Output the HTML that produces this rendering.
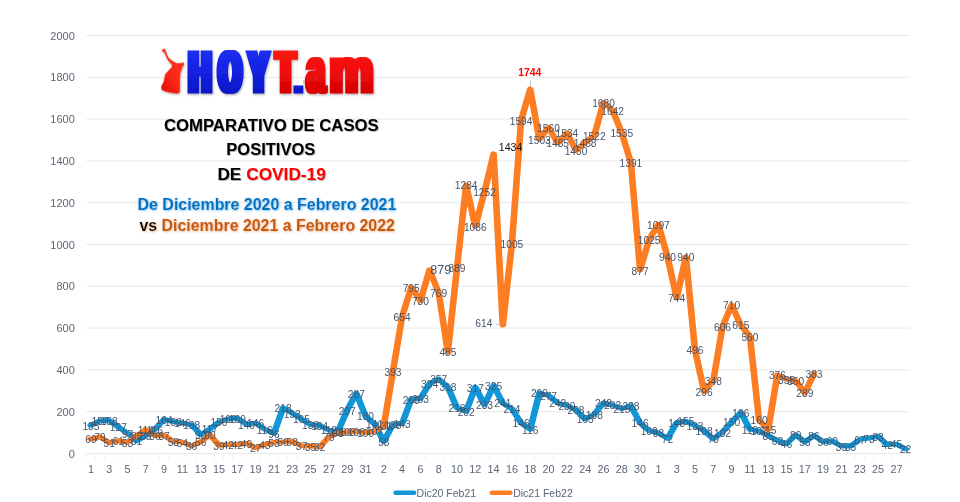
<!DOCTYPE html>
<html lang="es"><head><meta charset="utf-8"><title>Comparativo de casos positivos de COVID-19</title>
<style>html,body{margin:0;padding:0;background:#fff}body{width:960px;height:502px;overflow:hidden}svg{display:block}text{font-family:"Liberation Sans",sans-serif}</style></head><body>
<svg width="960" height="502" viewBox="0 0 960 502">
<defs>
<linearGradient id="gb" x1="0" y1="0" x2="0" y2="1"><stop offset="0" stop-color="#2a3cff"/><stop offset="0.45" stop-color="#1422e6"/><stop offset="1" stop-color="#0a12b8"/></linearGradient>
<linearGradient id="gr" x1="0" y1="0" x2="0" y2="1"><stop offset="0" stop-color="#ff2a1c"/><stop offset="0.45" stop-color="#f40a0a"/><stop offset="1" stop-color="#c80000"/></linearGradient>
<filter id="sh" x="-5%" y="-20%" width="110%" height="150%"><feDropShadow dx="0.8" dy="0.9" stdDeviation="0.7" flood-color="#000" flood-opacity="0.35"/></filter>
<filter id="glb" x="-5%" y="-30%" width="110%" height="160%"><feDropShadow dx="0.6" dy="0.7" stdDeviation="1.2" flood-color="#6db9ee" flood-opacity="1"/></filter>
<filter id="glo" x="-5%" y="-30%" width="110%" height="160%"><feDropShadow dx="0.6" dy="0.7" stdDeviation="1.2" flood-color="#f0a772" flood-opacity="1"/></filter>
<filter id="lsh" x="-5%" y="-10%" width="110%" height="130%"><feDropShadow dx="0.6" dy="1.2" stdDeviation="1" flood-color="#000" flood-opacity="0.35"/></filter>
<filter id="fat" filterUnits="userSpaceOnUse" x="180" y="40" width="200" height="62"><feMorphology in="SourceGraphic" operator="dilate" radius="3.2 0" x="180" y="40" width="123.8" height="62" result="a"/><feMorphology in="SourceGraphic" operator="dilate" radius="2.3 0" x="303.8" y="40" width="76.2" height="62" result="b"/><feMerge><feMergeNode in="a"/><feMergeNode in="b"/></feMerge></filter>
<linearGradient id="gm" x1="0.8" y1="0" x2="0.2" y2="1"><stop offset="0" stop-color="#ff3a24"/><stop offset="0.7" stop-color="#fb2212"/><stop offset="1" stop-color="#e01208"/></linearGradient>
</defs>
<rect width="960" height="502" fill="#fff"/>
<path d="M86.3 453.5H910.1M86.3 411.7H910.1M86.3 369.9H910.1M86.3 328.1H910.1M86.3 286.3H910.1M86.3 244.5H910.1M86.3 202.7H910.1M86.3 160.9H910.1M86.3 119.1H910.1M86.3 77.3H910.1M86.3 35.5H910.1" stroke="#E9E9E9" stroke-width="1" fill="none"/>
<path d="M86.30 453.5v5.5M95.45 453.5v5.5M104.61 453.5v5.5M113.76 453.5v5.5M122.91 453.5v5.5M132.07 453.5v5.5M141.22 453.5v5.5M150.37 453.5v5.5M159.53 453.5v5.5M168.68 453.5v5.5M177.83 453.5v5.5M186.99 453.5v5.5M196.14 453.5v5.5M205.29 453.5v5.5M214.45 453.5v5.5M223.60 453.5v5.5M232.75 453.5v5.5M241.91 453.5v5.5M251.06 453.5v5.5M260.21 453.5v5.5M269.37 453.5v5.5M278.52 453.5v5.5M287.67 453.5v5.5M296.83 453.5v5.5M305.98 453.5v5.5M315.13 453.5v5.5M324.29 453.5v5.5M333.44 453.5v5.5M342.59 453.5v5.5M351.75 453.5v5.5M360.90 453.5v5.5M370.05 453.5v5.5M379.21 453.5v5.5M388.36 453.5v5.5M397.51 453.5v5.5M406.67 453.5v5.5M415.82 453.5v5.5M424.97 453.5v5.5M434.13 453.5v5.5M443.28 453.5v5.5M452.43 453.5v5.5M461.59 453.5v5.5M470.74 453.5v5.5M479.89 453.5v5.5M489.05 453.5v5.5M498.20 453.5v5.5M507.35 453.5v5.5M516.51 453.5v5.5M525.66 453.5v5.5M534.81 453.5v5.5M543.97 453.5v5.5M553.12 453.5v5.5M562.27 453.5v5.5M571.43 453.5v5.5M580.58 453.5v5.5M589.73 453.5v5.5M598.89 453.5v5.5M608.04 453.5v5.5M617.19 453.5v5.5M626.35 453.5v5.5M635.50 453.5v5.5M644.65 453.5v5.5M653.81 453.5v5.5M662.96 453.5v5.5M672.11 453.5v5.5M681.27 453.5v5.5M690.42 453.5v5.5M699.57 453.5v5.5M708.73 453.5v5.5M717.88 453.5v5.5M727.03 453.5v5.5M736.19 453.5v5.5M745.34 453.5v5.5M754.49 453.5v5.5M763.65 453.5v5.5M772.80 453.5v5.5M781.95 453.5v5.5M791.11 453.5v5.5M800.26 453.5v5.5M809.41 453.5v5.5M818.57 453.5v5.5M827.72 453.5v5.5M836.87 453.5v5.5M846.03 453.5v5.5M855.18 453.5v5.5M864.33 453.5v5.5M873.49 453.5v5.5M882.64 453.5v5.5M891.79 453.5v5.5M900.95 453.5v5.5M910.10 453.5v5.5" stroke="#EEF0F4" stroke-width="1" fill="none"/>
<g font-size="11" fill="#5B6577" text-anchor="end">
<text x="74.8" y="457.5">0</text>
<text x="74.8" y="415.7">200</text>
<text x="74.8" y="373.9">400</text>
<text x="74.8" y="332.1">600</text>
<text x="74.8" y="290.3">800</text>
<text x="74.8" y="248.5">1000</text>
<text x="74.8" y="206.7">1200</text>
<text x="74.8" y="164.9">1400</text>
<text x="74.8" y="123.1">1600</text>
<text x="74.8" y="81.3">1800</text>
<text x="74.8" y="39.5">2000</text>
</g>
<g font-size="10.8" fill="#5B6577" text-anchor="middle">
<text x="90.9" y="472.9">1</text>
<text x="109.2" y="472.9">3</text>
<text x="127.5" y="472.9">5</text>
<text x="145.8" y="472.9">7</text>
<text x="164.1" y="472.9">9</text>
<text x="182.4" y="472.9">11</text>
<text x="200.7" y="472.9">13</text>
<text x="219.0" y="472.9">15</text>
<text x="237.3" y="472.9">17</text>
<text x="255.6" y="472.9">19</text>
<text x="273.9" y="472.9">21</text>
<text x="292.2" y="472.9">23</text>
<text x="310.6" y="472.9">25</text>
<text x="328.9" y="472.9">27</text>
<text x="347.2" y="472.9">29</text>
<text x="365.5" y="472.9">31</text>
<text x="383.8" y="472.9">2</text>
<text x="402.1" y="472.9">4</text>
<text x="420.4" y="472.9">6</text>
<text x="438.7" y="472.9">8</text>
<text x="457.0" y="472.9">10</text>
<text x="475.3" y="472.9">12</text>
<text x="493.6" y="472.9">14</text>
<text x="511.9" y="472.9">16</text>
<text x="530.2" y="472.9">18</text>
<text x="548.5" y="472.9">20</text>
<text x="566.9" y="472.9">22</text>
<text x="585.2" y="472.9">24</text>
<text x="603.5" y="472.9">26</text>
<text x="621.8" y="472.9">28</text>
<text x="640.1" y="472.9">30</text>
<text x="658.4" y="472.9">1</text>
<text x="676.7" y="472.9">3</text>
<text x="695.0" y="472.9">5</text>
<text x="713.3" y="472.9">7</text>
<text x="731.6" y="472.9">9</text>
<text x="749.9" y="472.9">11</text>
<text x="768.2" y="472.9">13</text>
<text x="786.5" y="472.9">15</text>
<text x="804.8" y="472.9">17</text>
<text x="823.1" y="472.9">19</text>
<text x="841.5" y="472.9">21</text>
<text x="859.8" y="472.9">23</text>
<text x="878.1" y="472.9">25</text>
<text x="896.4" y="472.9">27</text>
</g>
<g transform="scale(1.38 1)">
<polyline points="65.85,425.3 72.49,420.7 79.12,420.5 85.75,427.0 92.38,433.2 99.02,440.8 105.65,435.7 112.28,429.3 118.92,419.2 125.55,421.7 132.18,423.0 138.81,424.7 145.45,434.7 152.08,429.0 158.71,422.1 165.35,418.8 171.98,418.2 178.61,424.2 185.24,423.0 191.88,429.3 198.51,433.4 205.14,407.9 211.78,413.2 218.41,419.0 225.04,424.7 231.67,425.5 238.31,430.1 244.94,431.3 251.57,410.2 258.21,393.5 264.84,415.9 271.47,424.0 278.10,441.4 284.74,424.7 291.37,423.6 298.00,399.2 304.64,398.5 311.27,383.7 317.90,378.9 324.53,387.0 331.17,407.9 337.80,411.3 344.43,387.2 351.07,404.8 357.70,385.6 364.33,403.1 370.96,408.8 377.60,423.0 384.23,429.3 390.86,392.9 397.50,395.6 404.13,402.9 410.76,405.4 417.39,410.0 424.03,419.0 430.66,414.2 437.29,402.9 443.93,405.0 450.56,408.6 457.19,405.8 463.82,423.0 470.46,430.7 477.09,433.0 483.72,438.5 490.36,422.6 496.99,421.1 503.62,425.7 510.25,430.9 516.89,438.9 523.52,432.2 530.15,422.1 536.79,412.5 543.42,429.3 550.05,431.1 556.68,435.7 563.32,440.5 569.95,443.9 576.58,434.9 583.21,442.0 589.85,435.5 596.48,441.8 603.11,441.0 609.75,446.2 616.38,446.2 623.01,439.5 629.64,438.2 636.28,436.2 642.91,444.7 649.54,444.1 656.18,448.9" fill="none" stroke="#1196D8" stroke-width="4.8" stroke-linejoin="round" stroke-linecap="round"/>
<polyline points="65.85,439.1 72.49,437.0 79.12,442.8 85.75,440.8 92.38,442.4 99.02,435.7 105.65,429.7 112.28,435.5 118.92,435.3 125.55,441.4 132.18,442.2 138.81,446.0 145.45,441.8 152.08,434.7 158.71,445.3 165.35,444.7 171.98,444.7 178.61,443.3 185.24,447.9 191.88,444.5 198.51,442.4 205.14,441.8 211.78,441.4 218.41,445.8 225.04,446.2 231.67,446.8 238.31,437.0 244.94,433.0 251.57,432.0 258.21,431.3 264.84,432.6 271.47,431.1 278.10,426.1 284.74,371.4 291.37,316.8 298.00,287.3 304.64,300.9 311.27,269.8 317.90,292.8 324.53,352.1 331.17,267.7 337.80,185.1 344.43,226.5 351.07,191.8 357.70,153.8 364.33,325.2 370.96,243.5 377.60,120.4 384.23,89.0 390.86,139.4 397.50,127.5 404.13,143.1 410.76,132.9 417.39,150.4 424.03,142.5 430.66,135.4 437.29,102.4 443.93,110.3 450.56,132.7 457.19,162.8 463.82,270.2 470.46,239.3 477.09,224.2 483.72,257.0 490.36,298.0 496.99,257.0 503.62,349.8 510.25,391.6 516.89,380.8 523.52,326.8 530.15,305.1 536.79,325.0 543.42,336.5 550.05,420.1 556.68,429.5 563.32,374.9 569.95,379.3 576.58,380.4 583.21,393.1 589.85,373.5" fill="none" stroke="#FD7D22" stroke-width="4.8" stroke-linejoin="round" stroke-linecap="round"/>
</g>
<g font-size="10.2" fill="#44546A" text-anchor="middle">
<text x="90.9" y="429.6">135</text>
<text x="100.0" y="425.0">157</text>
<text x="109.2" y="424.8">158</text>
<text x="118.3" y="431.3">127</text>
<text x="127.5" y="437.5">97</text>
<text x="136.6" y="445.1">61</text>
<text x="145.8" y="440.0">85</text>
<text x="154.9" y="433.6">116</text>
<text x="164.1" y="423.5">164</text>
<text x="173.3" y="426.0">152</text>
<text x="182.4" y="427.3">146</text>
<text x="191.6" y="429.0">138</text>
<text x="200.7" y="439.0">90</text>
<text x="209.9" y="433.3">117</text>
<text x="219.0" y="426.4">150</text>
<text x="228.2" y="423.1">166</text>
<text x="237.3" y="422.5">169</text>
<text x="246.5" y="428.5">140</text>
<text x="255.6" y="427.3">146</text>
<text x="264.8" y="433.6">116</text>
<text x="273.9" y="437.7">96</text>
<text x="283.1" y="412.2">218</text>
<text x="292.2" y="417.5">193</text>
<text x="301.4" y="423.3">165</text>
<text x="310.6" y="429.0">138</text>
<text x="319.7" y="429.8">134</text>
<text x="328.9" y="434.4">112</text>
<text x="338.0" y="435.6">106</text>
<text x="347.2" y="414.5">207</text>
<text x="356.3" y="397.8">287</text>
<text x="365.5" y="420.2">180</text>
<text x="374.6" y="428.3">141</text>
<text x="383.8" y="445.7">58</text>
<text x="392.9" y="429.0">138</text>
<text x="402.1" y="427.9">143</text>
<text x="411.2" y="403.5">260</text>
<text x="420.4" y="402.8">263</text>
<text x="429.6" y="388.0">334</text>
<text x="438.7" y="383.2">357</text>
<text x="447.9" y="391.3">318</text>
<text x="457.0" y="412.2">218</text>
<text x="466.2" y="415.6">202</text>
<text x="475.3" y="391.5">317</text>
<text x="484.5" y="409.1">233</text>
<text x="493.6" y="389.9">325</text>
<text x="502.8" y="407.4">241</text>
<text x="511.9" y="413.1">214</text>
<text x="521.1" y="427.3">146</text>
<text x="530.2" y="433.6">116</text>
<text x="539.4" y="397.2">290</text>
<text x="548.5" y="399.9">277</text>
<text x="557.7" y="407.2">242</text>
<text x="566.9" y="409.7">230</text>
<text x="576.0" y="414.3">208</text>
<text x="585.2" y="423.3">165</text>
<text x="594.3" y="418.5">188</text>
<text x="603.5" y="407.2">242</text>
<text x="612.6" y="409.3">232</text>
<text x="621.8" y="412.9">215</text>
<text x="630.9" y="410.1">228</text>
<text x="640.1" y="427.3">146</text>
<text x="649.2" y="435.0">109</text>
<text x="658.4" y="437.3">98</text>
<text x="667.5" y="442.8">72</text>
<text x="676.7" y="426.9">148</text>
<text x="685.8" y="425.4">155</text>
<text x="695.0" y="430.0">133</text>
<text x="704.1" y="435.2">108</text>
<text x="713.3" y="443.2">70</text>
<text x="722.5" y="436.5">102</text>
<text x="731.6" y="426.4">150</text>
<text x="740.8" y="416.8">196</text>
<text x="749.9" y="433.6">116</text>
<text x="759.1" y="435.4">107</text>
<text x="768.2" y="440.0">85</text>
<text x="777.4" y="444.8">62</text>
<text x="786.5" y="448.2">46</text>
<text x="795.7" y="439.2">89</text>
<text x="804.8" y="446.3">55</text>
<text x="814.0" y="439.8">86</text>
<text x="823.1" y="446.1">56</text>
<text x="832.3" y="445.3">60</text>
<text x="841.5" y="450.5">35</text>
<text x="850.6" y="450.5">35</text>
<text x="859.8" y="443.8">67</text>
<text x="868.9" y="442.5">73</text>
<text x="878.1" y="440.5">83</text>
<text x="887.2" y="449.0">42</text>
<text x="896.4" y="448.4">45</text>
<text x="905.5" y="453.2">22</text>
<text x="90.9" y="443.4">69</text>
<text x="100.0" y="441.3">79</text>
<text x="109.2" y="447.1">51</text>
<text x="118.3" y="445.1">61</text>
<text x="127.5" y="446.7">53</text>
<text x="136.6" y="440.0">85</text>
<text x="145.8" y="434.0">114</text>
<text x="154.9" y="439.8">86</text>
<text x="164.1" y="439.6">87</text>
<text x="173.3" y="445.7">58</text>
<text x="182.4" y="446.5">54</text>
<text x="191.6" y="450.3">36</text>
<text x="200.7" y="446.1">56</text>
<text x="209.9" y="439.0">90</text>
<text x="219.0" y="449.6">39</text>
<text x="228.2" y="449.0">42</text>
<text x="237.3" y="449.0">42</text>
<text x="246.5" y="447.6">49</text>
<text x="255.6" y="452.2">27</text>
<text x="264.8" y="448.8">43</text>
<text x="273.9" y="446.7">53</text>
<text x="283.1" y="446.1">56</text>
<text x="292.2" y="445.7">58</text>
<text x="301.4" y="450.1">37</text>
<text x="310.6" y="450.5">35</text>
<text x="319.7" y="451.1">32</text>
<text x="328.9" y="441.3">79</text>
<text x="338.0" y="437.3">98</text>
<text x="347.2" y="436.3">103</text>
<text x="356.3" y="435.6">106</text>
<text x="365.5" y="436.9">100</text>
<text x="374.6" y="435.4">107</text>
<text x="383.8" y="430.4">131</text>
<text x="392.9" y="375.7">393</text>
<text x="402.1" y="321.1">654</text>
<text x="411.2" y="291.6">795</text>
<text x="420.4" y="305.2">730</text>
<text x="438.7" y="297.1">769</text>
<text x="447.9" y="356.4">485</text>
<text x="457.0" y="272.0">889</text>
<text x="466.2" y="189.4">1284</text>
<text x="475.3" y="230.8">1086</text>
<text x="484.5" y="196.1">1252</text>
<text x="511.9" y="247.8">1005</text>
<text x="521.1" y="124.7">1594</text>
<text x="539.4" y="143.7">1503</text>
<text x="548.5" y="131.8">1560</text>
<text x="557.7" y="147.4">1485</text>
<text x="566.9" y="137.2">1534</text>
<text x="576.0" y="154.8">1450</text>
<text x="585.2" y="146.8">1488</text>
<text x="594.3" y="139.7">1522</text>
<text x="603.5" y="106.7">1680</text>
<text x="612.6" y="114.6">1642</text>
<text x="621.8" y="137.0">1535</text>
<text x="630.9" y="167.1">1391</text>
<text x="640.1" y="274.5">877</text>
<text x="649.2" y="243.6">1025</text>
<text x="658.4" y="228.5">1097</text>
<text x="667.5" y="261.3">940</text>
<text x="676.7" y="302.3">744</text>
<text x="685.8" y="261.3">940</text>
<text x="695.0" y="354.1">496</text>
<text x="704.1" y="395.9">296</text>
<text x="713.3" y="385.1">348</text>
<text x="722.5" y="331.1">606</text>
<text x="731.6" y="309.4">710</text>
<text x="740.8" y="329.3">615</text>
<text x="749.9" y="340.8">560</text>
<text x="759.1" y="424.4">160</text>
<text x="768.2" y="433.8">115</text>
<text x="777.4" y="379.2">376</text>
<text x="786.5" y="383.6">355</text>
<text x="795.7" y="384.7">350</text>
<text x="804.8" y="397.4">289</text>
<text x="814.0" y="377.8">383</text>
</g>
<text x="440.8" y="274.2" font-size="12.6" fill="#44546A" text-anchor="middle">879</text>
<text x="510.6" y="151.4" font-size="10.6" fill="#111" text-anchor="middle">1434</text>
<path d="M495.8 324.4H500.8" stroke="#B9BEC7" stroke-width="0.8"/>
<text x="483.8" y="327.4" font-size="10.2" fill="#44546A" text-anchor="middle">614</text>
<path d="M530.4 80.5V87" stroke="#B0B0B0" stroke-width="0.8"/>
<text x="529.8" y="75.8" font-size="10.4" font-weight="bold" fill="#FF0000" text-anchor="middle">1744</text>
<path d="M395.6 492.8H414.0" stroke="#1196D8" stroke-width="4.6" stroke-linecap="round"/>
<text x="416.6" y="496.5" font-size="10.5" fill="#5B6577">Dic20 Feb21</text>
<path d="M491.9 492.8H510.3" stroke="#FD7D22" stroke-width="4.6" stroke-linecap="round"/>
<text x="513.2" y="496.5" font-size="10.5" fill="#5B6577">Dic21 Feb22</text>
<text transform="translate(271.3 131.2) scale(0.9613 1)" font-size="17.4" font-weight="bold" text-anchor="middle" filter="url(#sh)" xml:space="preserve"><tspan fill="#000">COMPARATIVO DE CASOS</tspan></text>
<text transform="translate(270.8 155.3) scale(0.9489 1)" font-size="17.4" font-weight="bold" text-anchor="middle" filter="url(#sh)" xml:space="preserve"><tspan fill="#000">POSITIVOS</tspan></text>
<text transform="translate(271.6 180.0) scale(0.9930 1)" font-size="17.4" font-weight="bold" text-anchor="middle" filter="url(#sh)" xml:space="preserve"><tspan fill="#000">DE </tspan><tspan fill="#FF0000">COVID-19</tspan></text>
<text transform="translate(266.9 209.6) scale(0.9789 1)" font-size="16.3" font-weight="bold" text-anchor="middle" filter="url(#glb)" xml:space="preserve"><tspan fill="#0070C0">De Diciembre 2020 a Febrero 2021</tspan></text>
<text transform="translate(267.2 231.2) scale(0.9760 1)" font-size="16.3" font-weight="bold" text-anchor="middle" filter="url(#glo)" xml:space="preserve"><tspan fill="#000">vs </tspan><tspan fill="#C55A11">Diciembre 2021 a Febrero 2022</tspan></text>
<g filter="url(#lsh)">
<path id="map" stroke="#f5200f" stroke-width="0.5" stroke-linejoin="round" d="M162.3 49.6L165.0 49.2L165.7 51.8L166.9 55.3L169.3 59.1L173.5 61.7L176.4 63.4L179.9 63.5L183.4 62.6L183.5 65.7L182.0 66.6L181.2 69.7L180.0 73.2L179.6 79L179.7 85.9L179.5 92.2L177 93.3L172.3 92.8L166.6 91.6L161.9 89.8L161.3 86.5L163.6 82.5L164.8 77.8L165.3 74.4L168.3 70.9L171.8 67.6L172.3 64.7L170.0 62.6L167.6 59.2L165.9 55.6L164.7 52.6L162.6 51.3Z" fill="url(#gm)"/>
<g filter="url(#fat)"><text id="logo" y="92.3" font-weight="bold" stroke-width="2.8" stroke-linejoin="miter"><tspan x="189.2" font-size="57.8" textLength="21.48" lengthAdjust="spacingAndGlyphs" fill="url(#gb)" stroke="url(#gb)">H</tspan><tspan x="219.0" font-size="57.8" textLength="22.18" lengthAdjust="spacingAndGlyphs" fill="url(#gb)" stroke="url(#gb)">O</tspan><tspan x="248.9" font-size="57.8" textLength="19.1" lengthAdjust="spacingAndGlyphs" fill="url(#gb)" stroke="url(#gb)">Y</tspan><tspan x="276.5" font-size="57.8" textLength="18.13" lengthAdjust="spacingAndGlyphs" fill="url(#gr)" stroke="url(#gr)">T</tspan><tspan x="296.1" font-size="34" textLength="4.75" lengthAdjust="spacingAndGlyphs" fill="url(#gb)" stroke="url(#gb)">.</tspan><tspan x="306.5" font-size="63" textLength="18.45" lengthAdjust="spacingAndGlyphs" fill="url(#gr)" stroke="url(#gr)">a</tspan><tspan x="329.6" font-size="63" textLength="43.93" lengthAdjust="spacingAndGlyphs" fill="url(#gr)" stroke="url(#gr)">m</tspan></text></g>
</g>
</svg></body></html>
